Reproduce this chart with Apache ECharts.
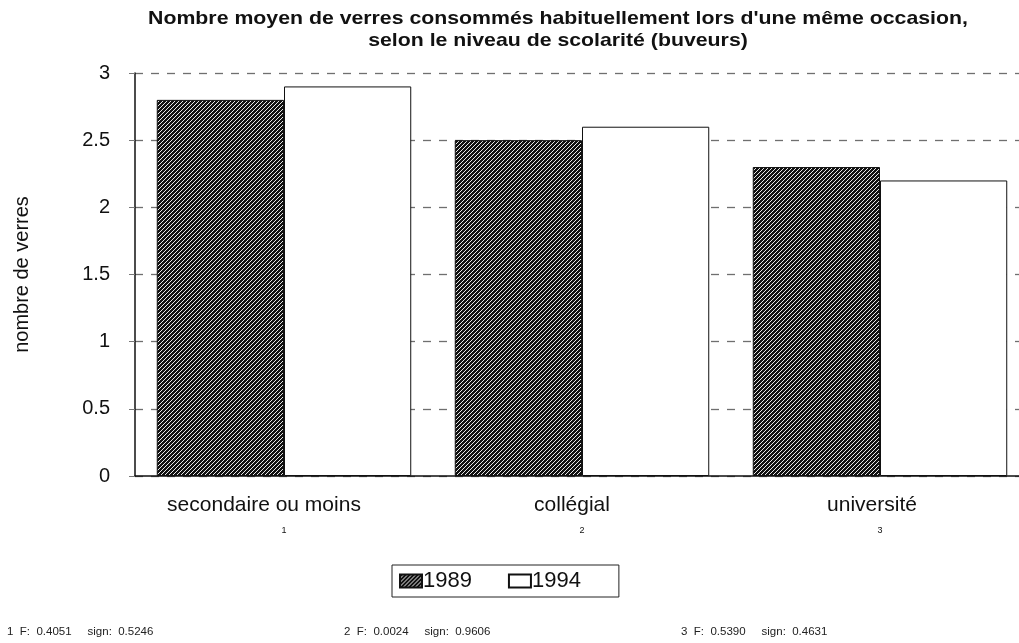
<!DOCTYPE html>
<html>
<head>
<meta charset="utf-8">
<script src="https://cdn.jsdelivr.net/npm/echarts@6/dist/echarts.min.js"></script>
<style>
  html, body { margin: 0; padding: 0; background: #fff; }
  #chart { width: 1019px; height: 643px; }
</style>
</head>
<body>
<div id="chart"></div>
<script>
// données
const categories = ['secondaire ou moins', 'collégial', 'université'];
const subLabels = ['1', '2', '3'];
const values1989 = [2.8, 2.5, 2.3];
const values1994 = [2.9, 2.6, 2.2];
const yTicks = [0, 0.5, 1, 1.5, 2, 2.5, 3];
const titleLines = [
    "Nombre moyen de verres consommés habituellement lors d'une même occasion,",
    'selon le niveau de scolarité (buveurs)'
];
const footnotes = [
    { n: '1', f: '0.4051', s: '0.5246' },
    { n: '2', f: '0.0024', s: '0.9606' },
    { n: '3', f: '0.5390', s: '0.4631' }
];

// motif hachuré (1989)
const makeHatch = () => {
    const c = document.createElement('canvas');
    c.width = 4; c.height = 4;
    const ctx = c.getContext('2d');
    ctx.fillStyle = '#111';
    ctx.fillRect(0, 0, 4, 4);
    ctx.strokeStyle = '#e8e8e8';
    ctx.lineWidth = 1;
    ctx.beginPath();
    ctx.moveTo(-1, 5); ctx.lineTo(5, -1);
    ctx.stroke();
    return c;
};
const hatch = { image: makeHatch(), repeat: 'repeat' };

const font = '"Liberation Sans", Arial, Helvetica, sans-serif';
const chart = echarts.init(document.getElementById('chart'));

const graphics = [];
// titre (un peu élargi comme l'original)
titleLines.forEach((t, i) => {
    graphics.push({
        type: 'text', x: 558, y: 19 + i * 22, scaleX: 1.12,
        style: { text: t, font: 'bold 19px ' + font, fill: '#111', align: 'center', verticalAlign: 'middle' }
    });
});
footnotes.forEach((d, i) => {
    graphics.push({
        type: 'text', left: 7 + i * 337, top: 626,
        style: { text: d.n + '  F:  ' + d.f + '     sign:  ' + d.s, font: '11.5px ' + font, fill: '#222' }
    });
});

// léger décalage à gauche des libellés, comme dans l'original
const labelShift = [20, 10, 8];
const rich = { b: { fontSize: 9, color: '#111', lineHeight: 28 } };
labelShift.forEach((s, i) => {
    rich['a' + i] = { fontSize: 21, color: '#111', lineHeight: 24, padding: [0, 2 * s, 0, 0] };
});

const option = {
    animation: false,
    backgroundColor: '#fff',
    textStyle: { fontFamily: font },
    grid: { left: 135, top: 73, width: 894, height: 403, outerBoundsMode: 'none', containLabel: false },
    legend: {
        data: ['1989', '1994'],
        left: 392, top: 565,
        padding: [5, 38, 5, 7],
        borderColor: '#222', borderWidth: 1,
        itemWidth: 22, itemHeight: 13, itemGap: 36,
        icon: 'rect',
        textStyle: { fontSize: 22, color: '#111', padding: [0, 0, 0, -4] }
    },
    xAxis: {
        type: 'category',
        data: categories,
        axisLine: { lineStyle: { color: '#111', width: 1.5 } },
        axisTick: { show: false },
        axisLabel: {
            margin: 17,
            formatter: (v, i) => '{a' + i + '|' + v + '}\n{b|' + subLabels[i] + '}',
            rich: rich
        }
    },
    yAxis: {
        type: 'value',
        min: yTicks[0], max: yTicks[yTicks.length - 1], interval: 0.5,
        name: 'nombre de verres',
        nameLocation: 'middle', nameGap: 103, nameRotate: 90,
        nameTextStyle: { fontSize: 20, color: '#111' },
        axisLine: { show: true, lineStyle: { color: '#111', width: 1.5 } },
        axisTick: { show: true, inside: false, length: 6, lineStyle: { color: '#777' } },
        axisLabel: { fontSize: 20, color: '#111', margin: 25 },
        splitLine: { show: true, lineStyle: { color: '#6f6f6f', type: [8, 8], width: 1.3 } }
    },
    series: [
        {
            name: '1989', type: 'bar', data: values1989,
            barGap: '0%', barCategoryGap: '14.6%',
            itemStyle: { color: hatch, borderColor: '#111', borderWidth: 1 }
        },
        {
            name: '1994', type: 'bar', data: values1994,
            barGap: '0%', barCategoryGap: '14.6%',
            itemStyle: { color: '#fff', borderColor: '#111', borderWidth: 1 }
        }
    ],
    graphic: graphics
};
chart.setOption(option);
</script>
</body>
</html>
